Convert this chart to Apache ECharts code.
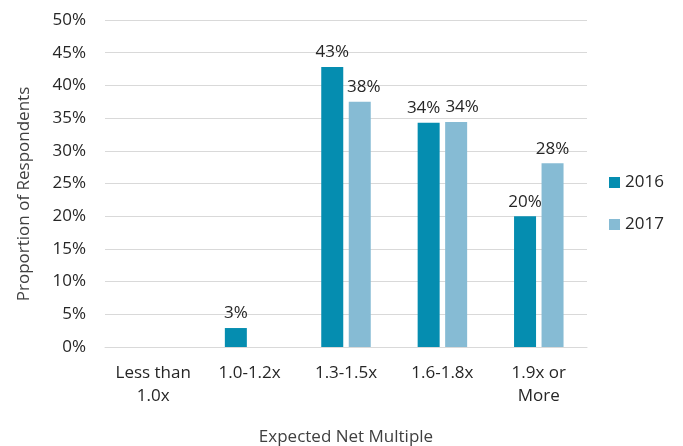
<!DOCTYPE html>
<html><head><meta charset="utf-8">
<script src="https://cdn.jsdelivr.net/npm/echarts@6/dist/echarts.min.js"></script>
<style>html,body{margin:0;padding:0;background:#fff;overflow:hidden}#c{width:683px;height:446px}</style>
</head><body><div id="c"></div>
<script>
const categories = ['Less than\n1.0x', '1.0-1.2x', '1.3-1.5x', '1.6-1.8x', '1.9x or\nMore'];
const seriesNames = ['2016', '2017'];
const values2016 = [0, 2.9, 42.8, 34.3, 20.0];
const values2017 = [0, 0, 37.5, 34.4, 28.1];
const yTicks = { min: 0, max: 50, interval: 5 };
const colors = ['#058DB0', '#86BBD4'];
// horizontal nudges of data labels (to avoid overlap, as in the original)
const labelShift2016 = [0, 0, 0, -5, 0];
const labelShift2017 = [0, 0, 4, 6, 0];

const font = '"Open Sans", "Noto Sans", sans-serif';
const textColor = '#262626';
const fs = 17;
const lbl = {
  show: true, position: 'top', distance: 6, color: textColor, fontFamily: font, fontSize: fs,
  formatter: p => p.value > 0 ? Math.round(p.value) + '%' : ''
};
const withShift = (vals, shifts) => vals.map((v, i) => shifts[i] ? { value: v, label: { offset: [shifts[i], 0] } } : v);
const chart = echarts.init(document.getElementById('c'), null, { renderer: 'canvas' });
chart.setOption({
  animation: false,
  color: colors,
  textStyle: { fontFamily: font },
  grid: { left: 105, right: 96, top: 20, bottom: 99, containLabel: false, outerBoundsMode: 'none' },
  legend: {
    orient: 'vertical', left: 604, top: 169, itemWidth: 11, itemHeight: 11, itemGap: 25,
    icon: 'rect',
    textStyle: { color: textColor, fontSize: fs, fontFamily: font },
    data: seriesNames
  },
  xAxis: {
    type: 'category', data: categories,
    name: 'Expected Net Multiple', nameLocation: 'middle', nameGap: 82,
    nameTextStyle: { color: '#404040', fontSize: fs, fontFamily: font },
    axisLine: { show: true, lineStyle: { color: '#d9d9d9', width: 1 } },
    axisTick: { show: false },
    axisLabel: { color: textColor, fontSize: fs, fontFamily: font, lineHeight: 23, margin: 15, interval: 0 }
  },
  yAxis: {
    type: 'value', min: yTicks.min, max: yTicks.max, interval: yTicks.interval,
    name: 'Proportion of Respondents', nameLocation: 'middle', nameGap: 72, nameRotate: 90,
    nameTextStyle: { color: '#404040', fontSize: fs, fontFamily: font, padding: [0, 21, 0, 0] },
    axisLine: { show: false }, axisTick: { show: false },
    splitLine: { lineStyle: { color: '#d9d9d9', width: 1 } },
    axisLabel: { color: textColor, fontSize: fs, fontFamily: font, margin: 19, formatter: v => v + '%' }
  },
  series: [
    { name: seriesNames[0], type: 'bar', data: withShift(values2016, labelShift2016), barWidth: 22, barGap: '25%', label: lbl },
    { name: seriesNames[1], type: 'bar', data: withShift(values2017, labelShift2017), barWidth: 22, barGap: '25%', label: lbl }
  ]
});
</script></body></html>
